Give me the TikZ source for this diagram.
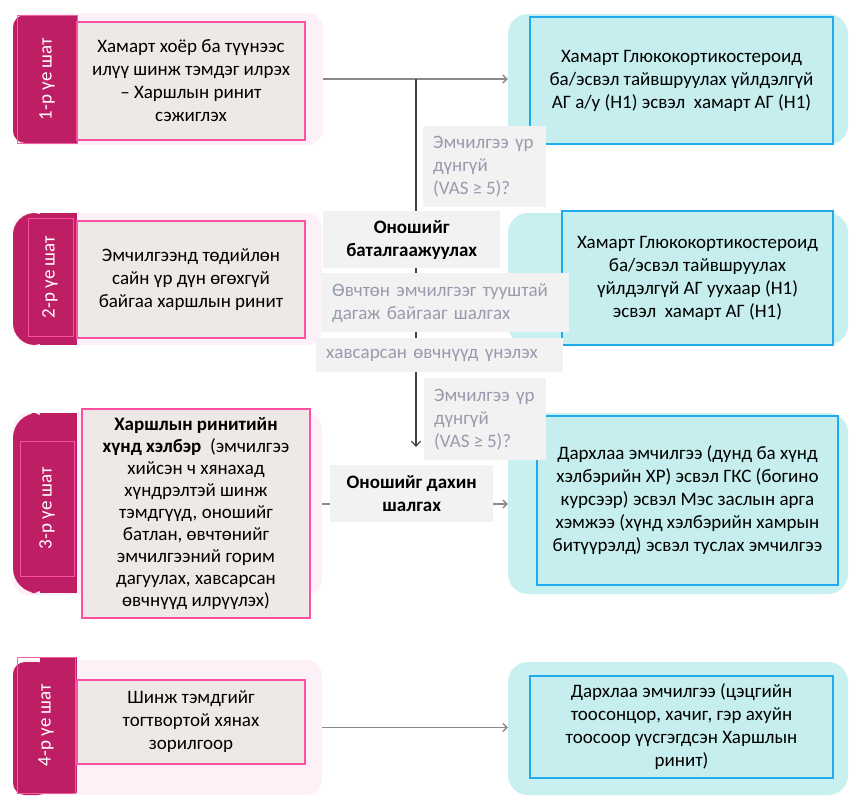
\documentclass[tikz,border=0pt]{standalone}
\usepackage{fontspec}
\setmainfont{Carlito}
\usetikzlibrary{arrows.meta}
\definecolor{mag}{HTML}{BE1E64}
\definecolor{magedge}{HTML}{F0609F}
\definecolor{pinkborder}{HTML}{FF4FA3}
\definecolor{beige}{HTML}{EEE9E6}
\definecolor{palepink}{HTML}{FDF0F6}
\definecolor{cyanbg}{HTML}{C8F0F0}
\definecolor{cyanbox}{HTML}{C6EEEE}
\definecolor{blueborder}{HTML}{22AAEE}
\definecolor{graybox}{HTML}{F2F2F2}
\definecolor{graytext}{HTML}{9A9AAE}
\definecolor{lightline}{HTML}{8A8A8A}
\definecolor{darkline}{HTML}{404040}
\newcommand{\vasq}{(VAS\kern4pt≥\kern4pt5)?}
\begin{document}
\begin{tikzpicture}[x=1pt,y=-1pt,
  txt/.style={font=\fontsize{19}{23}\selectfont},
  pinkbg/.style={fill=palepink, rounded corners=16, inner sep=0pt},
  cyanbgs/.style={fill=cyanbg, rounded corners=20, inner sep=0pt},
  beigebox/.style={txt, fill=beige, draw=pinkborder, line width=1.3pt, align=center, inner sep=0pt},
  cyanboxs/.style={txt, fill=cyanbox, draw=blueborder, line width=1.3pt, align=center, inner sep=0pt},
  grayboxs/.style={txt, fill=graybox, anchor=north west, inner sep=0pt},
  graynote/.style={grayboxs, text=graytext, align=left, inner xsep=10pt},
  grayhead/.style={grayboxs, align=center, font=\fontsize{19}{23}\selectfont\bfseries},
  tabtxt/.style={txt, text=white, rotate=90},
  tabfill/.style={fill=mag},
  tabedge/.style={draw=magedge, line width=1pt},
  tabinner/.style={draw=pinkborder, line width=1pt},
  hline/.style={draw=lightline, line width=1.4pt, -{Straight Barb[length=4pt,width=8pt]}},
  vline/.style={draw=darkline, line width=1.2pt, -{Straight Barb[length=5pt,width=9pt]}}
]
\useasboundingbox (0,0) rectangle (860,806);

% backgrounds
\node[pinkbg, minimum width=310, minimum height=132] (pb1) at (168,79) {};
\node[pinkbg, minimum width=309, minimum height=132] (pb2) at (167.5,279) {};
\node[pinkbg, minimum width=309, minimum height=182] (pb3) at (167.5,504) {};
\node[pinkbg, minimum width=309, minimum height=135] (pb4) at (167.5,727.5) {};
\node[cyanbgs, minimum width=340, minimum height=131] (cb1) at (678,79.5) {};
\node[cyanbgs, minimum width=340, minimum height=132] (cb2) at (678,279) {};
\node[cyanbgs, minimum width=340, minimum height=181] (cb3) at (678,503.5) {};
\node[cyanbgs, minimum width=340, minimum height=133] (cb4) at (678,728.5) {};

% tabs
\fill[tabfill, rounded corners=12] (13,15) rectangle (50,143);
\fill[tabfill] (40,15) rectangle (77,143);
\draw[tabedge] (17,15) rectangle (77,143);
\node[tabtxt] (t1) at (47,79) {1-р үе шат};

\fill[tabfill, rounded corners=22] (13,213) rectangle (55,345);
\fill[tabfill] (40,213) rectangle (77,345);
\draw[tabinner] (28,218) rectangle (73,336);
\node[tabtxt] (t2) at (50,277) {2-р үе шат};

\fill[tabfill, rounded corners=25] (13,413) rectangle (55,593);
\fill[tabfill] (40,413) rectangle (77,593);
\draw[tabinner] (20,441) rectangle (74,576);
\node[tabtxt] (t3) at (47,508) {3-р үе шат};

\fill[tabfill, rounded corners=12] (13,662) rectangle (50,795);
\fill[tabfill] (40,657) rectangle (77,793);
\draw[tabedge] (17,657) rectangle (75,793);
\node[tabtxt] (t4) at (46,725) {4-р үе шат};

% connectors (drawn before the gray labels that cover them)
\draw[hline] (pb1.east) -- (pb1.east -| cb1.west);
\coordinate (j1) at (416,79);
\coordinate (e1) at (416,447);
\draw[vline] (j1) -- (e1);
\draw[hline] (pb3.east) -- (pb3.east -| cb3.west);
\draw[hline] (pb4.east) -- (pb4.east -| cb4.west);

% beige boxes
\node[beigebox, minimum width=228, minimum height=118] (b1) at (191,81)
  {Хамарт хоёр ба түүнээс\\илүү шинж тэмдэг илрэх\\– Харшлын ринит\\сэжиглэх};
\node[beigebox, minimum width=228, minimum height=117] (b2) at (191,279.5)
  {Эмчилгээнд төдийлөн\\сайн үр дүн өгөхгүй\\байгаа харшлын ринит};
\node[beigebox, minimum width=228, minimum height=209, font=\fontsize{19}{22}\selectfont] (b3) at (196,513.5)
  {\textbf{Харшлын ринитийн}\\\textbf{хүнд хэлбэр}~~(эмчилгээ\\хийсэн ч хянахад\\хүндрэлтэй шинж\\тэмдгүүд, оношийг\\батлан, өвчтөнийг\\эмчилгээний горим\\дагуулах, хавсарсан\\өвчнүүд илрүүлэх)};
\node[beigebox, minimum width=228, minimum height=84] (b4) at (191,722)
  {Шинж тэмдгийг\\тогтвортой хянах\\зорилгоор};

% cyan boxes
\node[cyanboxs, minimum width=303, minimum height=127] (c1) at (681.5,80.5)
  {Хамарт Глюкокортикостероид\\ба/эсвэл тайвшруулах үйлдэлгүй\\АГ а/у (Н1) эсвэл~~хамарт АГ (Н1)};
\node[cyanboxs, minimum width=271, minimum height=134] (c2) at (697.5,278)
  {Хамарт Глюкокортикостероид\\ба/эсвэл тайвшруулах\\үйлдэлгүй~АГ уухаар (Н1)\\эсвэл~~хамарт АГ (Н1)};
\node[cyanboxs, minimum width=301, minimum height=169] (c3) at (687.5,500.5)
  {Дархлаа эмчилгээ (дунд ба хүнд\\хэлбэрийн ХР) эсвэл ГКС (богино\\курсээр) эсвэл Мэс заслын арга\\хэмжээ (хүнд хэлбэрийн хамрын\\битүүрэлд) эсвэл туслах эмчилгээ};
\node[cyanboxs, minimum width=303, minimum height=102] (c4) at (681.5,727)
  {Дархлаа эмчилгээ (цэцгийн\\тоосонцор, хачиг, гэр ахуйн\\тоосоор үүсгэгдсэн Харшлын\\ринит)};

% gray labels
\node[graynote, minimum width=123, minimum height=81, text width=103] (g1) at (423,126)
  {Эмчилгээ үр\\дүнгүй\\\vasq};
\node[grayhead, minimum width=177, minimum height=57] (h1) at (323,211)
  {Оношийг\\баталгаажуулах};
\node[graynote, minimum width=247, minimum height=59, text width=227] (g2) at (322,273)
  {Өвчтөн эмчилгээг тууштай\\дагаж байгааг шалгах};
\node[graynote, minimum width=247, minimum height=34, text width=227] (g3) at (316,338)
  {хавсарсан өвчнүүд үнэлэх};
\node[graynote, minimum width=122, minimum height=82, text width=102] (g4) at (424,378)
  {Эмчилгээ~үр\\дүнгүй\\\vasq};
\node[grayhead, minimum width=163, minimum height=57] (h2) at (330,465)
  {Оношийг дахин\\шалгах};
\end{tikzpicture}
\end{document}
